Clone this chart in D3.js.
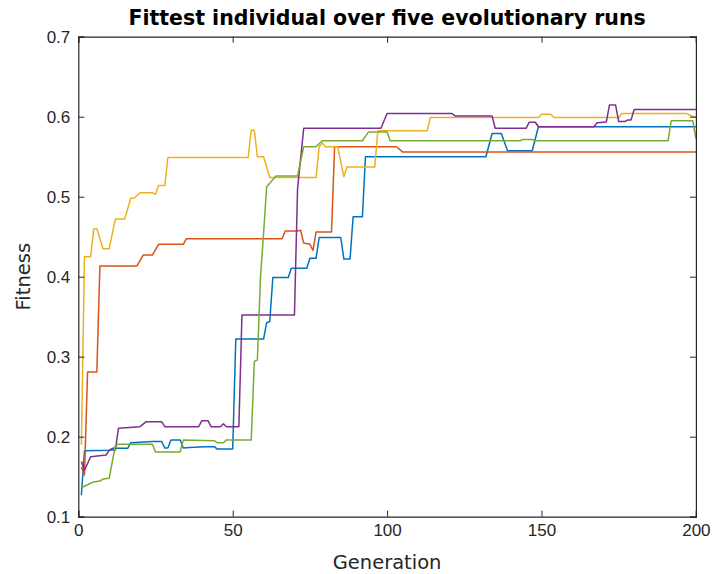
<!DOCTYPE html>
<html>
<head>
<meta charset="utf-8">
<script src="https://cdn.jsdelivr.net/npm/d3@7"></script>
<style>
  body { margin: 0; background: #fff; }
  svg { display: block; font-family: "DejaVu Sans", sans-serif; }
  .ejes path, .ejes line { stroke: #262626; }
  .ejes text { fill: #262626; font-size: 17px; }
</style>
</head>
<body>
<div id="graf"></div>
<script>
// fittest individual per generation, [generation, fitness] breakpoints
const run1 = [[1,0.127],[2,0.1825],[10,0.183],[11,0.1855],[16,0.1855],[17,0.1925],[24,0.194],[27,0.194],[28,0.186],[29,0.186],[30,0.196],[33,0.196],[34,0.186],[36,0.1865],[41,0.1875],[44,0.1875],[45,0.1845],[50,0.1845],[51,0.322],[60,0.322],[61,0.3425],[62,0.344],[63,0.399],[68,0.399],[69,0.4105],[74,0.4105],[75,0.423],[77,0.423],[78,0.449],[85,0.449],[86,0.422],[88,0.422],[89,0.475],[92,0.475],[93,0.55],[132,0.55],[134,0.579],[137,0.579],[139,0.5575],[147,0.5575],[149,0.5875],[200,0.5875]]
const run2 = [[1,0.162],[2,0.152],[3,0.281],[6,0.281],[7,0.4135],[19,0.4135],[21,0.427],[24,0.427],[26,0.4405],[34,0.4405],[35,0.4475],[66,0.4475],[67,0.457],[71,0.457],[72,0.458],[73,0.442],[75,0.4405],[76,0.433],[77,0.456],[82,0.456],[83,0.5625],[103,0.5625],[105,0.556],[200,0.556]]
const run3 = [[1,0.19],[2,0.425],[4,0.425],[5,0.46],[6,0.46],[8,0.435],[10,0.435],[12,0.472],[15,0.472],[17,0.498],[18,0.498],[20,0.505],[24,0.505],[25,0.503],[26,0.514],[28,0.514],[29,0.549],[55,0.549],[56,0.583],[57,0.583],[58,0.55],[60,0.55],[62,0.524],[77,0.524],[78,0.5625],[79,0.567],[80,0.5625],[84,0.5625],[86,0.525],[87,0.537],[96,0.537],[97,0.5825],[113,0.5825],[114,0.599],[149,0.599],[150,0.603],[153,0.603],[154,0.599],[175,0.599],[176,0.604],[197,0.604],[199,0.6],[200,0.6]]
const run4 = [[1,0.169],[2,0.158],[4,0.175],[9,0.177],[10,0.1833],[12,0.1833],[13,0.2105],[20,0.2125],[22,0.2188],[27,0.2188],[28,0.2125],[39,0.2125],[40,0.22],[42,0.22],[43,0.2125],[46,0.2125],[47,0.216],[48,0.2125],[52,0.2125],[53,0.352],[70,0.352],[71,0.51],[73,0.5855],[98,0.5855],[100,0.604],[121,0.604],[122,0.601],[134,0.601],[135,0.5855],[145,0.5855],[146,0.593],[148,0.593],[149,0.5875],[167,0.5875],[168,0.5925],[171,0.5935],[172,0.6146],[174,0.6146],[175,0.594],[177,0.594],[178,0.596],[179,0.596],[180,0.609],[200,0.609]]
const run5 = [[1,0.1365],[3,0.14],[5,0.1435],[7,0.1445],[8,0.147],[10,0.148],[12,0.189],[13,0.1905],[24,0.1905],[25,0.181],[33,0.181],[34,0.196],[44,0.195],[45,0.1925],[47,0.1925],[48,0.196],[56,0.196],[57,0.294],[58,0.296],[59,0.4],[60,0.454],[61,0.5125],[62,0.5167],[64,0.526],[71,0.526],[73,0.5625],[77,0.5625],[79,0.57],[92,0.57],[94,0.581],[100,0.581],[101,0.57],[143,0.57],[144,0.5715],[147,0.5715],[148,0.57],[191,0.57],[192,0.595],[199,0.595],[200,0.573]]

const runs = [run1, run2, run3, run4, run5]
const colores = ["#0072BD", "#D95319", "#EDB120", "#7E2F8E", "#77AC30"]
const xTicks = [0, 50, 100, 150, 200]
const yTicks = [0.1, 0.2, 0.3, 0.4, 0.5, 0.6, 0.7]
const titulo = "Fittest individual over five evolutionary runs"
const xLabel = "Generation"
const yLabel = "Fitness"

const anchoTotal = 714
const altoTotal = 574
const margins = { left: 78.3, top: 36.7, right: 18.1, bottom: 57.3 }
const ancho = anchoTotal - margins.left - margins.right
const alto = altoTotal - margins.top - margins.bottom

const svg = d3.select("#graf")
  .append("svg")
  .attr("width", anchoTotal)
  .attr("height", altoTotal)

const g = svg.append("g")
  .attr("transform", `translate(${margins.left}, ${margins.top})`)

const x = d3.scaleLinear().domain([0, 200]).range([0, ancho])
const y = d3.scaleLinear().domain([0.1, 0.7]).range([alto, 0])

const linea = d3.line()
  .x((d) => x(d[0]))
  .y((d) => y(d[1]))

g.selectAll("path.run")
  .data(runs)
  .enter()
  .append("path")
  .attr("class", "run")
  .attr("d", linea)
  .attr("fill", "none")
  .attr("stroke", (d, i) => colores[i])
  .attr("stroke-width", 1.5)
  .attr("stroke-linejoin", "round")

// box with inward ticks on all sides, like matlab
const fmt = d3.format("")
g.append("g").attr("class", "ejes")
  .attr("transform", `translate(0, ${alto})`)
  .call(d3.axisBottom(x).tickValues(xTicks).tickFormat(fmt).tickSize(-6).tickPadding(7))
g.append("g").attr("class", "ejes")
  .call(d3.axisTop(x).tickValues(xTicks).tickFormat("").tickSize(-6))
g.append("g").attr("class", "ejes")
  .call(d3.axisLeft(y).tickValues(yTicks).tickFormat(d3.format(".1f")).tickSize(-6).tickPadding(8))
g.append("g").attr("class", "ejes")
  .attr("transform", `translate(${ancho}, 0)`)
  .call(d3.axisRight(y).tickValues(yTicks).tickFormat("").tickSize(-6))

g.selectAll(".ejes path").attr("stroke-width", 1.2)

svg.append("text")
  .attr("x", margins.left + ancho / 2)
  .attr("y", 25)
  .attr("text-anchor", "middle")
  .attr("font-size", 20.5)
  .attr("font-weight", "bold")
  .attr("fill", "#000")
  .text(titulo)

svg.append("text")
  .attr("x", margins.left + ancho / 2)
  .attr("y", 569)
  .attr("text-anchor", "middle")
  .attr("font-size", 19.5)
  .attr("fill", "#262626")
  .text(xLabel)

svg.append("text")
  .attr("transform", `translate(30, ${margins.top + alto / 2}) rotate(-90)`)
  .attr("text-anchor", "middle")
  .attr("font-size", 19.5)
  .attr("fill", "#262626")
  .text(yLabel)
</script>
</body>
</html>
